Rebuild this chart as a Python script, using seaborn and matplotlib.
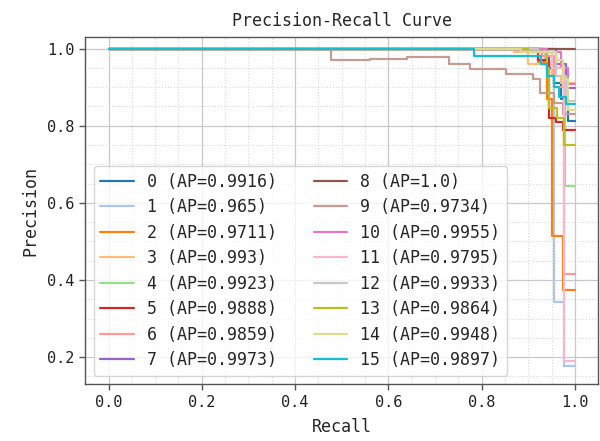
import matplotlib
matplotlib.use("Agg")
import matplotlib.pyplot as plt
from matplotlib.ticker import MultipleLocator
import seaborn as sns
import pandas as pd

classes = list(range(16))
ap_values = [0.9916, 0.965, 0.9711, 0.993, 0.9923, 0.9888, 0.9859, 0.9973,
             1.0, 0.9734, 0.9955, 0.9795, 0.9933, 0.9864, 0.9948, 0.9897]

# step-curve breakpoints (recall ascending, precision held until next recall)
recall_0 = [0, 0.93, 0.945, 0.955, 0.97, 0.985, 1.0]
prec_0 = [1, 0.98, 0.95, 0.91, 0.87, 0.812, 0.812]
recall_1 = [0, 0.9, 0.935, 0.955, 0.976, 1.0]
prec_1 = [1, 0.99, 0.96, 0.343, 0.176, 0.176]
recall_2 = [0, 0.92, 0.94, 0.95, 0.974, 1.0]
prec_2 = [1, 0.965, 0.87, 0.513, 0.375, 0.375]
recall_3 = [0, 0.87, 0.9, 0.95, 0.97, 1.0]
prec_3 = [1, 0.99, 0.96, 0.93, 0.91, 0.91]
recall_4 = [0, 0.93, 0.96, 0.978, 1.0]
prec_4 = [1, 0.99, 0.95, 0.643, 0.643]
recall_5 = [0, 0.92, 0.945, 0.96, 0.975, 1.0]
prec_5 = [1, 0.97, 0.82, 0.81, 0.788, 0.788]
recall_6 = [0, 0.93, 0.955, 0.976, 1.0]
prec_6 = [1, 0.98, 0.9, 0.415, 0.415]
recall_7 = [0, 0.93, 0.96, 0.98, 1.0]
prec_7 = [1, 1.0, 0.96, 0.899, 0.899]
recall_8 = [0, 1.0]
prec_8 = [1, 1]
recall_9 = [0, 0.477, 0.56, 0.64, 0.73, 0.776, 0.852, 0.91, 0.925, 0.955, 0.975, 1.0]
prec_9 = [1, 0.971, 0.974, 0.977, 0.96, 0.946, 0.935, 0.921, 0.885, 0.86, 0.83, 0.83]
recall_10 = [0, 0.94, 0.97, 0.985, 1.0]
prec_10 = [1, 0.99, 0.95, 0.909, 0.909]
recall_11 = [0, 0.9, 0.95, 0.976, 1.0]
prec_11 = [1, 0.99, 0.95, 0.19, 0.19]
recall_12 = [0, 0.92, 0.96, 0.98, 1.0]
prec_12 = [1, 0.99, 0.93, 0.865, 0.865]
recall_13 = [0, 0.9, 0.94, 0.945, 0.961, 0.976, 1.0]
prec_13 = [1, 0.99, 0.95, 0.845, 0.82, 0.749, 0.749]
recall_14 = [0, 0.884, 0.96, 0.975, 0.985, 1.0]
prec_14 = [1, 0.99, 0.97, 0.92, 0.84, 0.84]
recall_15 = [0, 0.784, 0.927, 0.94, 0.955, 0.965, 0.98, 1.0]
prec_15 = [1, 0.982, 0.96, 0.93, 0.9, 0.875, 0.857, 0.857]

recalls = [recall_0, recall_1, recall_2, recall_3, recall_4, recall_5, recall_6, recall_7,
           recall_8, recall_9, recall_10, recall_11, recall_12, recall_13, recall_14, recall_15]
precisions = [prec_0, prec_1, prec_2, prec_3, prec_4, prec_5, prec_6, prec_7,
              prec_8, prec_9, prec_10, prec_11, prec_12, prec_13, prec_14, prec_15]

rows = []
labels = []
for c, ap, rr, pp in zip(classes, ap_values, recalls, precisions):
    lab = f"{c} (AP={ap})"
    labels.append(lab)
    for i, (r, p) in enumerate(zip(rr, pp)):
        rows.append({"Recall": r, "Precision": p, "cls": lab, "order": i})
df = pd.DataFrame(rows)

sns.set_theme(style="whitegrid")
plt.rcParams["font.family"] = ["DejaVu Sans Mono", "DejaVu Sans"]

fig = plt.figure(figsize=(6.0, 4.41), dpi=100)
ax = fig.add_axes([0.142, 0.129, 0.855, 0.787])

palette = [plt.cm.tab20(i / len(classes)) for i in range(len(classes))]
sns.lineplot(data=df, x="Recall", y="Precision", hue="cls", hue_order=labels,
             palette=palette, sort=False, estimator=None, units="cls",
             drawstyle="steps-post", linewidth=1.6, ax=ax, legend=True)

ax.set_xlim(-0.05, 1.05)
ax.set_ylim(0.13, 1.03)
ax.xaxis.set_major_locator(MultipleLocator(0.2))
ax.yaxis.set_major_locator(MultipleLocator(0.2))
ax.xaxis.set_minor_locator(MultipleLocator(0.05))
ax.yaxis.set_minor_locator(MultipleLocator(0.05))
ax.grid(which="major", color="#c8c8c8", linestyle="-", linewidth=0.9)
ax.grid(which="minor", color="#d8d8d8", linestyle=":", linewidth=0.8)
ax.set_axisbelow(True)
for s in ax.spines.values():
    s.set_color("#555555")
    s.set_linewidth(1.0)
ax.tick_params(axis="both", which="major", labelsize=11, length=4, width=1,
               color="#555555", left=True, bottom=True, labelcolor="#222222")
ax.tick_params(axis="both", which="minor", length=0)

ax.set_title("Precision-Recall Curve", fontsize=12, pad=8)
ax.set_xlabel("Recall", fontsize=12, labelpad=6)
ax.set_ylabel("Precision", fontsize=12, labelpad=6)

handles, labs = ax.get_legend_handles_labels()
leg = ax.legend(handles, labs, ncol=2, loc="lower left", fontsize=12,
                frameon=True, framealpha=0.8, edgecolor="#cccccc",
                columnspacing=2.2, handlelength=2.0, labelspacing=0.45,
                borderpad=0.4)
for line in leg.get_lines():
    line.set_linewidth(1.6)

fig.savefig("out.png", dpi=100)
